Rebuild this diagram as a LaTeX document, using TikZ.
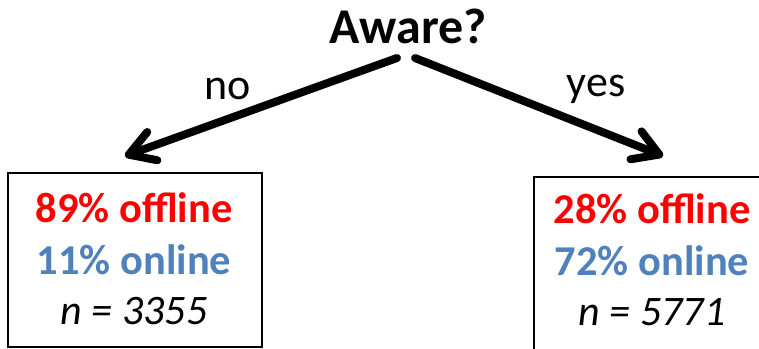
\documentclass[tikz,border=0pt]{standalone}
\usepackage{fontspec}
\setmainfont{Carlito}
\usetikzlibrary{arrows.meta}
\definecolor{offred}{RGB}{255,0,0}
\definecolor{onblue}{RGB}{79,129,189}
\tikzset{
  question/.style={font=\fontsize{50}{58}\selectfont\bfseries, anchor=base, inner sep=0pt},
  branchlabel/.style={font=\fontsize{44}{52}\selectfont, anchor=base, inner sep=0pt},
  branch/.style={line width=8pt, line cap=round,
    -{Straight Barb[length=25pt, width=30pt, line cap=round, line join=round]}},
  resultbox/.style={draw, line width=1.5pt, rectangle, inner sep=0pt},
  offtext/.style={font=\fontsize{42.5}{50}\selectfont\bfseries, text=offred, anchor=base, inner sep=0pt},
  ontext/.style={font=\fontsize{42.5}{50}\selectfont\bfseries, text=onblue, anchor=base, inner sep=0pt},
  ntext/.style={font=\fontsize{42}{50}\selectfont\itshape, anchor=base, inner sep=0pt},
}
\begin{document}
\begin{tikzpicture}[x=1pt, y=-1pt]
  \useasboundingbox (0,0) rectangle (759,348);

  % question at the root
  \node[question] (aware) at (408,43) {Aware?};

  % result boxes
  \node[resultbox, minimum width=254pt, minimum height=174pt] (nobox) at (135,260) {};
  \node[resultbox, minimum width=236pt, minimum height=176pt] (yesbox) at (652,265) {};

  % branch end points
  \coordinate (nostart) at (397,58);
  \coordinate (notip) at (125,156);
  \coordinate (yesstart) at (415,58);
  \coordinate (yestip) at (663,156);

  \draw[branch] (nostart) -- (notip);
  \draw[branch] (yesstart) -- (yestip);

  \node[branchlabel] (nolabel) at (228,99) {no};
  \node[branchlabel] (yeslabel) at (596,96) {yes};

  % left box contents
  \node[offtext] (nooff) at (134,222) {89\% offline};
  \node[ontext] (noon) at (134,274) {11\% online};
  \node[ntext] (non) at (134,324) {n = 3355};

  % right box contents
  \node[offtext] (yesoff) at (652,223) {28\% offline};
  \node[ontext] (yeson) at (652,275) {72\% online};
  \node[ntext] (yesn) at (652,325) {n = 5771};
\end{tikzpicture}
\end{document}
